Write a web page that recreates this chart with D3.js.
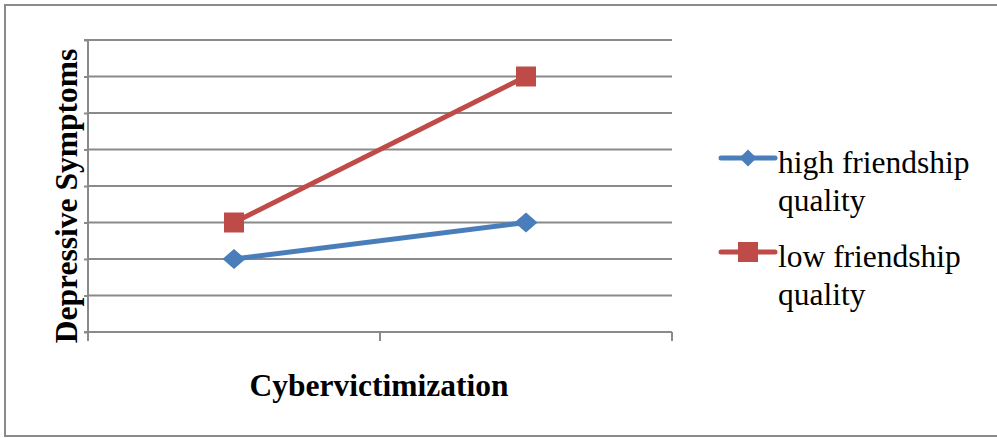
<!DOCTYPE html>
<html>
<head>
<meta charset="utf-8">
<script src="https://cdn.jsdelivr.net/npm/d3@7"></script>
<style>
  html, body { margin: 0; padding: 0; background: #fff; }
  svg { display: block; }
  text { font-family: "Liberation Serif", "Times New Roman", serif; fill: #000; }
</style>
</head>
<body>
<svg id="chart" width="997" height="438"></svg>
<script>
// Interaction plot: depressive symptoms by cybervictimization level
const categories = ["low", "high"];
const seriesNames = ["high friendship quality", "low friendship quality"];
const highFriendship = [2, 3];
const lowFriendship = [3, 7];
const yTicks = [0, 1, 2, 3, 4, 5, 6, 7, 8];

const colors = ["#4a7ebb", "#be4b48"];

// wide diamond and square markers
const diamond = (w, h) => `M${-w / 2},0L0,${-h / 2}L${w / 2},0L0,${h / 2}Z`;
const square = s => `M${-s / 2},${-s / 2}h${s}v${s}h${-s}Z`;
const markerPath = [diamond(23, 20), square(20)];
const legendMarkerPath = [diamond(17, 17), square(20)];

const svg = d3.select("#chart");

// outer chart border
svg.append("rect")
  .attr("x", 5).attr("y", 5)
  .attr("width", 1000).attr("height", 431)
  .attr("fill", "none")
  .attr("stroke", "#8a8a8a")
  .attr("stroke-width", 2);

const plot = { left: 88, right: 672, top: 40, bottom: 332 };

const x = d3.scaleBand()
  .domain(categories)
  .range([plot.left, plot.right])
  .padding(0);

const y = d3.scaleLinear()
  .domain([0, 8])
  .range([plot.bottom, plot.top]);

// horizontal gridlines
svg.append("g")
  .selectAll("line")
  .data(yTicks)
  .join("line")
  .attr("x1", plot.left).attr("x2", plot.right)
  .attr("y1", d => y(d)).attr("y2", d => y(d))
  .attr("stroke", "#8a8a8a")
  .attr("stroke-width", 2);

// y axis with short outer ticks, no labels
const yAxis = svg.append("g")
  .attr("transform", `translate(${plot.left},0)`)
  .call(d3.axisLeft(y).tickValues(yTicks).tickSize(4).tickFormat(() => ""));
yAxis.selectAll("path, line").attr("stroke", "#8a8a8a").attr("stroke-width", 2);
yAxis.select(".domain").attr("d", `M-4,${y(8)}H0V${y(0)}H-4`);

// x axis: ticks at category boundaries
const boundaries = [plot.left, ...categories.map(c => x(c) + x.bandwidth())];
const xAxis = svg.append("g");
xAxis.append("line")
  .attr("x1", plot.left).attr("x2", plot.right)
  .attr("y1", plot.bottom).attr("y2", plot.bottom)
  .attr("stroke", "#8a8a8a").attr("stroke-width", 2);
xAxis.selectAll("line.tick")
  .data(boundaries)
  .join("line")
  .attr("class", "tick")
  .attr("x1", d => d).attr("x2", d => d)
  .attr("y1", plot.bottom).attr("y2", plot.bottom + 9)
  .attr("stroke", "#8a8a8a").attr("stroke-width", 2);

// series lines and markers
const series = [highFriendship, lowFriendship];
const line = d3.line()
  .x((d, i) => x(categories[i]) + x.bandwidth() / 2)
  .y(d => y(d));

series.forEach((vals, s) => {
  svg.append("path")
    .datum(vals)
    .attr("d", line)
    .attr("fill", "none")
    .attr("stroke", colors[s])
    .attr("stroke-width", 5)
    .attr("stroke-linecap", "round");
  svg.append("g")
    .selectAll("path")
    .data(vals)
    .join("path")
    .attr("transform", (d, i) => `translate(${x(categories[i]) + x.bandwidth() / 2},${y(d)})`)
    .attr("d", markerPath[s])
    .attr("fill", colors[s]);
});

// axis titles
svg.append("text")
  .attr("x", (plot.left + plot.right) / 2 - 1)
  .attr("y", 396)
  .attr("text-anchor", "middle")
  .attr("font-size", 31.5)
  .attr("font-weight", "bold")
  .text("Cybervictimization");

svg.append("text")
  .attr("transform", `translate(77,${(plot.top + plot.bottom) / 2 + 10}) rotate(-90)`)
  .attr("text-anchor", "middle")
  .attr("font-size", 31.5)
  .attr("font-weight", "bold")
  .text("Depressive Symptoms");

// legend
const legend = svg.append("g");
const legendTop = [173, 267];
seriesNames.forEach((name, s) => {
  const base = legendTop[s];
  const g = legend.append("g");
  g.append("line")
    .attr("x1", 721).attr("x2", 775)
    .attr("y1", base - 15).attr("y2", base - 15)
    .attr("stroke", colors[s])
    .attr("stroke-width", 5)
    .attr("stroke-linecap", "round");
  g.append("path")
    .attr("transform", `translate(748,${base - 15})`)
    .attr("d", legendMarkerPath[s])
    .attr("fill", colors[s]);
  const words = name.split(" ");
  const t = g.append("text")
    .attr("x", 778).attr("y", base)
    .attr("font-size", 31.5);
  t.append("tspan").attr("x", 778).attr("dy", 0).text(words.slice(0, 2).join(" "));
  t.append("tspan").attr("x", 778).attr("dy", 37.5).text(words.slice(2).join(" "));
});
</script>
</body>
</html>
